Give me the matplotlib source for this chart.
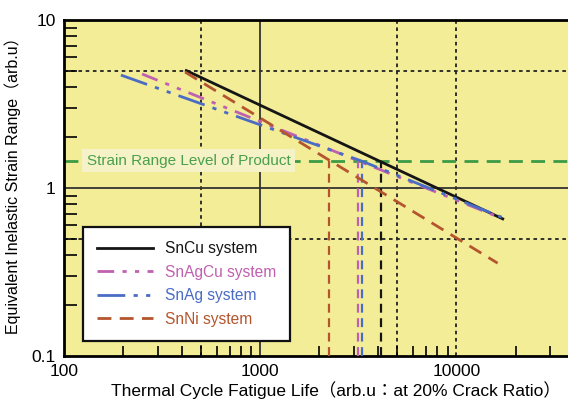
import matplotlib
matplotlib.use('Agg')
import matplotlib.pyplot as plt
from matplotlib.lines import Line2D

plt.rcParams['font.family'] = ['Liberation Sans', 'Noto Sans CJK JP', 'DejaVu Sans']

# fatigue curves (end points read in log-log space)
SERIES = ['SnCu system', 'SnAgCu system', 'SnAg system', 'SnNi system']
SNCU_X = [420, 17200]
SNCU_Y = [5.0, 0.655]
SNAGCU_X = [250, 3160, 17000]
SNAGCU_Y = [4.77, 1.45, 0.66]
SNAG_X = [195, 3270, 17000]
SNAG_Y = [4.70, 1.45, 0.67]
SNNI_X = [414, 16200]
SNNI_Y = [4.9, 0.357]

# strain range level of product and the life where each curve crosses it
LEVEL = 1.45
CROSS_X = [4140, 3160, 3290, 2250]

COLORS = ['#151515', '#c060b0', '#4a6cc4', '#b4552e']
STYLES = ['-', (0, (6, 3, 1.5, 3, 1.5, 3)), (0, (10, 3, 1.5, 3, 1.5, 3)), (0, (5, 3))]

X_TICKS = [100, 1000, 10000]
X_LABELS = ['100', '1000', '10000']
Y_TICKS = [0.1, 1, 10]
Y_LABELS = ['0.1', '1', '10']

fig = plt.figure(figsize=(5.68, 4.01), dpi=100)
ax = fig.add_axes([64 / 568, 1 - 356 / 401, 504 / 568, 336 / 401])
ax.set_facecolor('#f3ed98')
ax.set_xscale('log')
ax.set_yscale('log')
ax.set_xlim(100, 37000)
ax.set_ylim(0.1, 10)

# grid: solid at the decades, dotted at the halves
for x in [500, 5000, 10000]:
    ax.axvline(x, color='#222222', lw=1.3, ls=(0, (2, 2)), zorder=1)
for y in [0.5, 5]:
    ax.axhline(y, color='#222222', lw=1.3, ls=(0, (2, 2)), zorder=1)
ax.axvline(1000, color='#333333', lw=1.3, zorder=1)
ax.axhline(1, color='#333333', lw=1.3, zorder=1)

# product level
ax.axhline(LEVEL, color='#3d9a45', lw=2, ls=(0, (5, 3)), zorder=2)
ax.text(131, LEVEL, 'Strain Range Level of Product', color='#4aa04a', fontsize=11,
        va='center', ha='left', zorder=3,
        bbox=dict(boxstyle='square,pad=0.3', fc='#f5f2c8', ec='none'))

xs = [SNCU_X, SNAGCU_X, SNAG_X, SNNI_X]
ys = [SNCU_Y, SNAGCU_Y, SNAG_Y, SNNI_Y]
for name, x, y, c, s in zip(SERIES, xs, ys, COLORS, STYLES):
    ax.plot(x, y, color=c, ls=s, lw=2, label=name, zorder=4)

# drop lines from the crossings down to the life axis
for x, c in zip(CROSS_X, COLORS):
    ax.plot([x, x], [0.1, LEVEL], color=c, lw=1.6, ls=(0, (4, 2.5)), zorder=3)

ax.set_xticks(X_TICKS)
ax.set_xticklabels(X_LABELS)
ax.set_yticks(Y_TICKS)
ax.set_yticklabels(Y_LABELS)
ax.tick_params(which='major', length=0, labelsize=12.5, pad=6)
ax.tick_params(axis='x', which='minor', direction='in', length=7, width=1.2)
ax.tick_params(axis='y', which='minor', direction='in', length=9.5, width=1.2)
ax.xaxis.set_minor_formatter(plt.NullFormatter())
ax.yaxis.set_minor_formatter(plt.NullFormatter())

for side in ['left', 'top', 'bottom']:
    ax.spines[side].set_linewidth(2)
ax.spines['right'].set_visible(False)

ax.set_xlabel('Thermal Cycle Fatigue Life（arb.u：at 20% Crack Ratio）', fontsize=12.5)
ax.xaxis.set_label_coords(0.54, -0.075)
ax.set_ylabel('Equivalent Inelastic Strain Range（arb.u）', fontsize=11.5)
ax.yaxis.set_label_coords(-0.085, 0.52)

handles = [Line2D([], [], color=c, ls=s, lw=2) for c, s in zip(COLORS, STYLES)]
leg = ax.legend(handles, SERIES, loc='lower left', bbox_to_anchor=(0.037, 0.045),
                borderaxespad=0, fontsize=11.2, handlelength=3.6, labelspacing=0.55,
                fancybox=False, framealpha=1, edgecolor='#111111',
                borderpad=0.9, handletextpad=0.8)
leg.get_frame().set_linewidth(1.6)
leg.set_zorder(6)
for t, c in zip(leg.get_texts(), COLORS):
    t.set_color(c)

fig.savefig('out.png', dpi=100)
